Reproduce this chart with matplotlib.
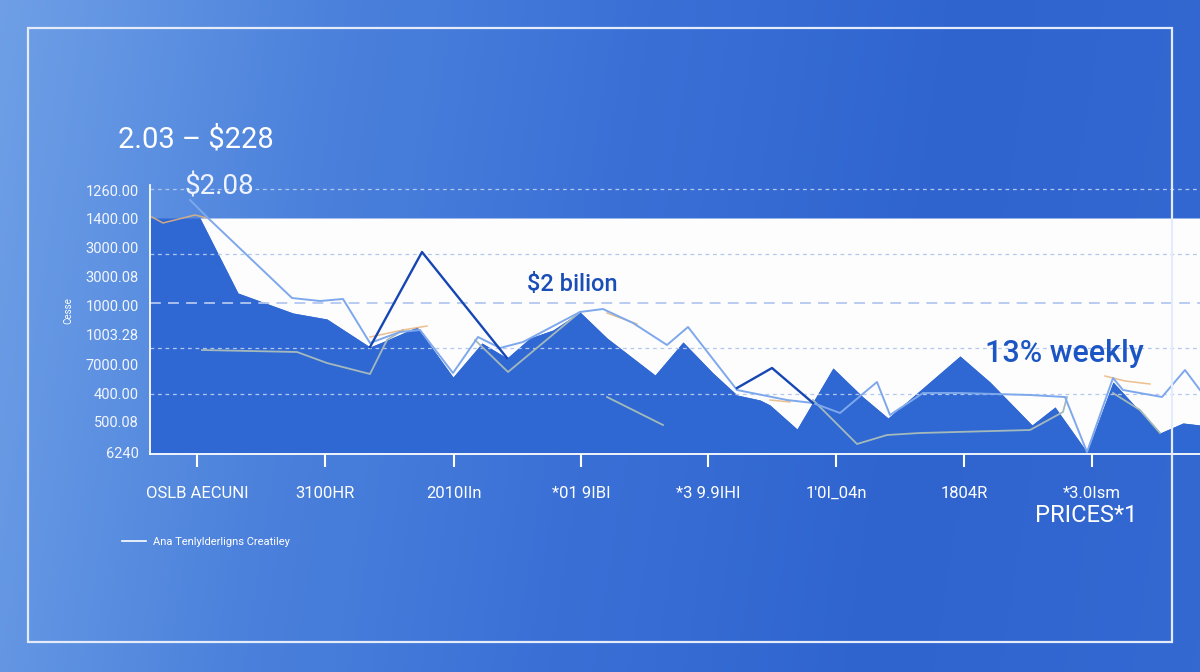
import numpy as np
import matplotlib.pyplot as plt
from matplotlib.colors import LinearSegmentedColormap
from matplotlib.patches import Rectangle

plt.rcParams['font.family'] = ['Roboto', 'DejaVu Sans']

# boundary of the white area (top edge of the blue area)
area_x = [0, 50, 88, 143, 177, 220, 237, 267, 303, 332, 357, 380, 403, 430, 457, 505, 533, 563,
          587, 610, 620, 647, 683, 713, 738, 810, 840, 882, 905, 937, 963, 1010, 1033, 1050]
area_y = [236, 236, 161, 141, 135, 107, 114, 127, 77, 111, 96, 116, 124, 142, 116, 79, 112, 81,
          59, 54, 49, 25, 86, 57, 36, 98, 72, 29, 47, 2, 72, 21, 31, 29]
area_top = 236

nan = np.nan
navy_x = [220, 272, 357, nan, 587, 622, 663]
navy_y = [107, 202, 96, nan, 66, 86, 51]

light_x = [40, 58, 142, 170, 193, 220, 250, 270, 303, 328, 350, 373, 430, 453, 483, 517, 538,
           587, 637, 663, 690, 727, 740, 773, 810, 880, 915, 937, 963, 973, 1012, 1035, 1050]
light_y = [254, 236, 156, 153, 155, 111, 122, 124, 81, 117, 106, 112, 142, 145, 131, 109, 127,
           64, 54, 51, 41, 72, 39, 61, 61, 59, 57, 2, 76, 64, 57, 84, 64]

orange_x = [2, 13, 45, 57, nan, 220, 253, 277, nan, 457, 487, nan, 620, 640, nan, 955, 975, 1000]
orange_y = [237, 231, 239, 236, nan, 117, 124, 128, nan, 141, 130, nan, 54, 52, nan, 78, 73, 70]

grey_x = [52, 147, 177, 220, 237, 253, nan, 325, 358, 430, nan, 457, 513, nan,
          663, 707, 737, 770, 880, 913, 917, nan, 963, 990, 1010]
grey_y = [104, 102, 91, 80, 114, 124, nan, 114, 82, 142, nan, 57, 29, nan,
          54, 10, 19, 21, 24, 42, 57, nan, 61, 44, 21]

grid_y = [265, 200, 151, 106, 60]

ytick_pos = [264, 236, 207, 178, 149, 120, 90, 61, 33, 2]
ytick_labels = ['1260.00', '1400.00', '3000.00', '3000.08', '1000.00',
                '1003.28', '7000.00', '400.00', '500.08', '6240']
xtick_pos = [47, 175, 304, 431, 558, 686, 814, 942]
xtick_labels = ['OSLB AECUNI', '3100HR', '2010IIn', '*01 9IBI',
                '*3 9.9IHI', "1'0I_04n", '1804R', '*3.0Ism']

fig = plt.figure(figsize=(12, 6.72), dpi=100)
fig.patch.set_facecolor('#3a70d6')

# background gradient
bg = fig.add_axes([0, 0, 1, 1], zorder=-10)
cmap = LinearSegmentedColormap.from_list(
    'bg', ['#6e9fe6', '#4c82dc', '#3a70d6', '#2f64cf', '#3469d2'])
gx = np.linspace(0, 1, 300)
gy = np.linspace(0, 1, 100)
GX, GY = np.meshgrid(gx, gy)
bg.imshow(GX * 0.92 + 0.08 * GY, cmap=cmap, aspect='auto', extent=[0, 1, 0, 1])
bg.axis('off')

ax = fig.add_axes([0.125, 0.3244, 0.875, 0.4003])
ax.set_facecolor('none')
ax.set_xlim(0, 1050)
ax.set_ylim(0, 269)

ax.fill_between(area_x, area_y, area_top, color='#fdfdfe', lw=0, zorder=1)
ax.fill_between(area_x, 0, area_y, color='#3068d3', lw=0, zorder=1)

for i, g in enumerate(grid_y):
    ax.axhline(g, color='#b3c7ee', lw=1.3 if i == 2 else 0.9,
               ls=(0, (6, 4)) if i == 2 else (0, (3, 3)), zorder=2)

ax.plot(grey_x, grey_y, color='#a3b9bb', lw=1.3, zorder=3)
ax.plot(orange_x, orange_y, color='#e8b47c', lw=1.1, alpha=0.85, zorder=3)
light_line, = ax.plot(light_x, light_y, color='#7ea8ec', lw=1.4, zorder=4)
ax.plot(navy_x, navy_y, color='#1646b3', lw=1.7, zorder=5)

for s in ['top', 'right']:
    ax.spines[s].set_visible(False)
for s in ['left', 'bottom']:
    ax.spines[s].set_color('white')
    ax.spines[s].set_linewidth(1.3)

ax.set_xticks(xtick_pos, xtick_labels)
ax.set_yticks(ytick_pos, ytick_labels)
ax.tick_params(axis='x', colors='white', length=9, width=1.5, pad=14, labelsize=12)
ax.tick_params(axis='y', length=0, pad=8, labelsize=10.5, labelcolor='#f2f6ff')

ax.set_ylabel('Cesse', fontsize=7, color='white')
ax.yaxis.set_label_coords(-0.073, 0.535)

leg = fig.legend(handles=[light_line], labels=['Ana Tenlylderligns Creatiley'],
                 loc='center left', bbox_to_anchor=(0.093, 1 - 542 / 672), frameon=False,
                 fontsize=8, labelcolor='white', handlelength=2.2, handletextpad=0.6)
leg.legend_handles[0].set_color('white')
leg.legend_handles[0].set_linewidth(1.2)

fig.text(0.098, 1 - 140 / 672, '2.03 \u2013 $228', fontsize=21, color='white', va='center')
fig.text(0.154, 1 - 187 / 672, '$2.08', fontsize=20, color='#eef3ff', va='center')
fig.text(527 / 1200, 1 - 285 / 672, '$2 bilion', fontsize=17, color='#1a4eb6',
         weight='medium', va='center')
fig.text(985 / 1200, 1 - 353 / 672, '13% weekly', fontsize=22, color='#1c56c4',
         weight='medium', va='center')
fig.text(1035 / 1200, 1 - 516 / 672, 'PRICES*1', fontsize=17, color='white', va='center')

fig.add_artist(Rectangle((28 / 1200, 30 / 672), 1144 / 1200, 614 / 672,
                         transform=fig.transFigure, fill=False, ec='#e4ecfa', lw=1.6,
                         zorder=10))

fig.savefig('out.png', dpi=100)
